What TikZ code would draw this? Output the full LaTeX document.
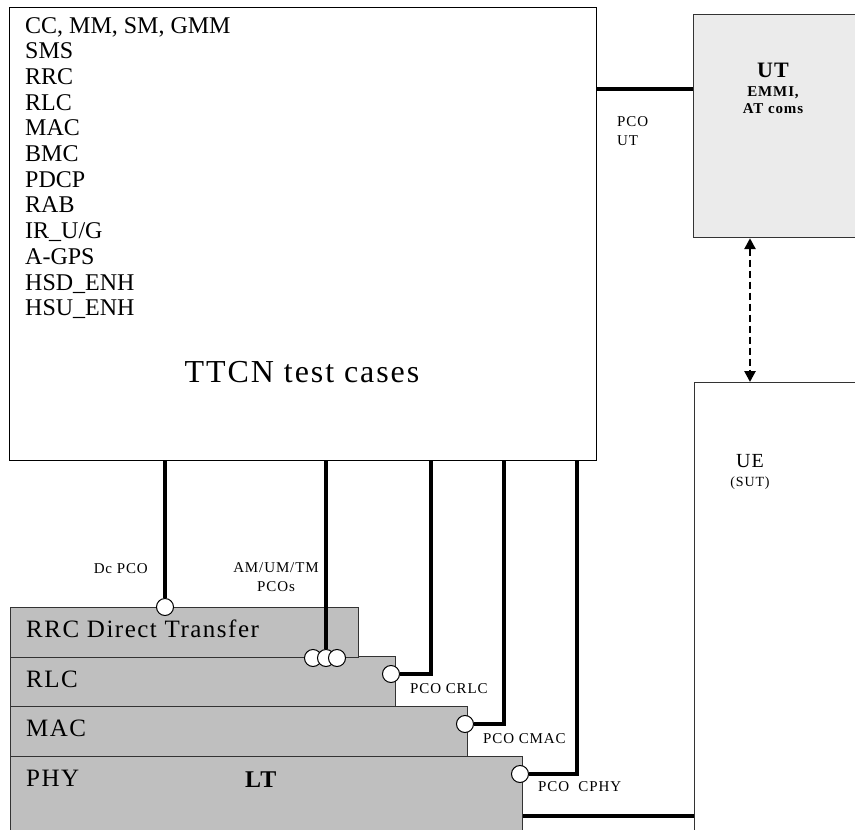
\documentclass[tikz,border=0pt]{standalone}
\usepackage{fontspec}
\setmainfont{Liberation Serif}[LetterSpace=6]
\newfontfamily\plainserif{Liberation Serif}
\usetikzlibrary{arrows.meta}

\begin{document}
\begin{tikzpicture}[x=1pt,y=-1pt,
    box/.style={draw=black!80,line width=1.2pt,anchor=north west,inner sep=0pt},
    layer/.style={box,fill=black!25,minimum height=50pt},
    pco/.style={circle,draw=black,line width=1pt,fill=white,inner sep=0pt,minimum size=17pt},
    link/.style={draw=black,line width=3.2pt},
    small/.style={inner sep=0pt,font=\fontsize{15}{19}\selectfont},
    lbl/.style={inner sep=0pt,anchor=base west,font=\fontsize{25}{28}\selectfont}
  ]
  \useasboundingbox (0,0) rectangle (855,830);

  % big boxes
  \node[box,draw=black,minimum width=587pt,minimum height=453pt] (ttcn) at (9,7) {};
  \node[box,fill=black!8,minimum width=180pt,minimum height=223pt] (ut) at (693,14) {};
  \node[box,fill=white,minimum width=180pt,minimum height=470pt] (ue) at (694,382) {};

  % LT layer stack
  \node[layer,minimum width=512pt,minimum height=100pt] (phy) at (10,756) {};
  \node[layer,minimum width=457pt] (mac) at (10,706) {};
  \node[layer,minimum width=385pt] (rlc) at (10,656) {};
  \node[layer,minimum width=348pt] (rrc) at (10,607) {};

  % texts in boxes
  \node[anchor=north west,inner sep=0pt,align=left,
        font=\plainserif\fontsize{24}{25.7}\selectfont] (tests) at (25,17)
    {CC, MM, SM, GMM\\SMS\\RRC\\RLC\\MAC\\BMC\\PDCP\\RAB\\IR\_U/G\\A-GPS\\HSD\_ENH\\HSU\_ENH};
  \node[anchor=base,inner sep=0pt,font=\fontsize{32}{36}\selectfont] (ttcnname) at (302,382) {TTCN test cases};
  \node[anchor=base,inner sep=0pt,font=\bfseries\fontsize{22}{24}\selectfont] (utname) at (773,77) {UT};
  \node[anchor=base,inner sep=0pt,font=\bfseries\fontsize{15}{17}\selectfont] (emmi) at (773,96) {EMMI,};
  \node[anchor=base,inner sep=0pt,font=\bfseries\fontsize{15}{17}\selectfont] (atcoms) at (773,113) {AT coms};
  \node[anchor=base,inner sep=0pt,font=\fontsize{20}{24}\selectfont] (uename) at (750,467) {UE};
  \node[anchor=base,inner sep=0pt,font=\fontsize{14}{17}\selectfont] (sut) at (750,486) {(SUT)};

  \node[lbl] (rrcname) at (26,637) {RRC Direct Transfer};
  \node[lbl] (rlcname) at (26,687) {RLC};
  \node[lbl] (macname) at (26,736) {MAC};
  \node[lbl] (phyname) at (26,786) {PHY};
  \node[lbl,font=\bfseries\fontsize{24}{28}\selectfont] (ltname) at (245,787) {LT};

  % points of control and observation
  \node[pco] (dc) at (165,607) {};
  \node[pco] (am1) at (313,658) {};
  \node[pco] (am2) at (326,658) {};
  \node[pco] (am3) at (337,658) {};
  \node[pco] (crlc) at (391,674) {};
  \node[pco] (cmac) at (465,724) {};
  \node[pco] (cphy) at (520,774) {};

  \coordinate (xrlc) at (431,0);
  \coordinate (xmac) at (504,0);
  \coordinate (xphy) at (577,0);
  \coordinate (utlink) at (0,89);
  \coordinate (uelink) at (0,816);
  \coordinate (dashx) at (750,0);

  % connectors
  \draw[link] (dc |- ttcn.south) -- (dc.north);
  \draw[link] (am2 |- ttcn.south) -- (am2.north);
  \draw[link] (crlc.east) -| (xrlc |- ttcn.south);
  \draw[link] (cmac.east) -| (xmac |- ttcn.south);
  \draw[link] (cphy.east) -| (xphy |- ttcn.south);
  \draw[link] (utlink -| ttcn.east) -- (utlink -| ut.west);
  \draw[link,line width=4.5pt] (uelink -| phy.east) -- (uelink -| ue.west);
  \draw[line width=2.6pt,dash pattern=on 7pt off 4pt,
        {Triangle[length=11pt,width=11pt]}-{Triangle[length=11pt,width=11pt]}]
    (dashx |- ut.south) -- (dashx |- ue.north);

  % labels
  \node[small,anchor=base east] (dclabel) at (148,573) {Dc PCO};
  \node[small,anchor=north,align=center] (amlabel) at (276,562) {AM/UM/TM\\PCOs};
  \node[small,anchor=north west,align=left] (utlabel) at (617,116) {PCO\\UT};
  \node[small,anchor=base west] (crlclabel) at (410,693) {PCO CRLC};
  \node[small,anchor=base west] (cmaclabel) at (483,743) {PCO CMAC};
  \node[small,anchor=base west] (cphylabel) at (538,791) {PCO\ \ CPHY};
\end{tikzpicture}
\end{document}
